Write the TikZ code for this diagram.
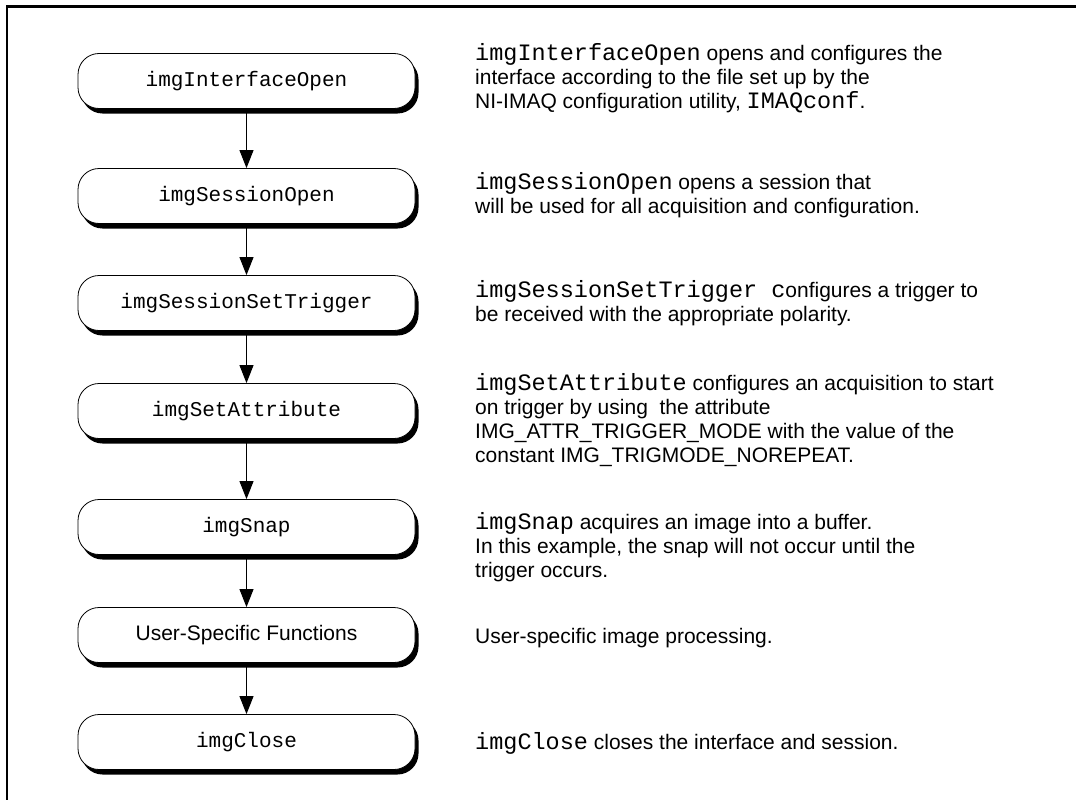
\documentclass[tikz,border=0pt]{standalone}
\usepackage{fontspec}
\setmainfont{Liberation Sans}
\setmonofont{Liberation Mono}
\usetikzlibrary{shadows,arrows.meta}
\newcommand\cmdtxt[1]{{\fontsize{23.5pt}{23.5pt}\selectfont\ttfamily #1}}
\tikzset{
  fbox/.style={draw=black, line width=0.8pt, fill=white, rounded corners=21pt,
    minimum width=337pt, minimum height=55pt, inner sep=0pt,
    font=\fontsize{21pt}{24pt}\selectfont\ttfamily,
    drop shadow={shadow xshift=3.5pt, shadow yshift=-5pt, fill=black, opacity=1}},
  sbox/.style={fbox, font=\fontsize{21pt}{24pt}\selectfont\rmfamily},
  desc/.style={anchor=base west, align=left, inner sep=0pt,
    font=\fontsize{21pt}{24pt}\selectfont},
  flow/.style={line width=1pt, -{Triangle[length=18pt,width=14pt]}}
}
\begin{document}
\begin{tikzpicture}[x=1pt,y=-1pt]
\useasboundingbox (0,0) rectangle (1076,800);
\draw[line width=2.2pt] (7,800) -- (7,6.5) -- (1076,6.5);

\node[fbox] (n1) at (246.5,81) {imgInterfaceOpen};
\node[fbox] (n2) at (246.5,196) {imgSessionOpen};
\node[fbox] (n3) at (246.5,303) {imgSessionSetTrigger};
\node[fbox] (n4) at (246.5,411) {imgSetAttribute};
\node[fbox] (n5) at (246.5,527) {imgSnap};
\node[sbox] (n6) at (246.5,635) {User-Specific Functions};
\node[fbox] (n7) at (246.5,742) {imgClose};

\draw[flow] (n1.south) -- (n2.north);
\draw[flow] (n2.south) -- (n3.north);
\draw[flow] (n3.south) -- (n4.north);
\draw[flow] (n4.south) -- (n5.north);
\draw[flow] (n5.south) -- (n6.north);
\draw[flow] (n6.south) -- (n7.north);

\node[desc] (d1) at (475,108) {\cmdtxt{imgInterfaceOpen} opens and configures the\\interface according to the file set up by the\\NI-IMAQ configuration utility, \cmdtxt{IMAQconf}.};
\node[desc] (d2) at (475,213) {\cmdtxt{imgSessionOpen} opens a session that\\will be used for all acquisition and configuration.};
\node[desc] (d3) at (475,321) {\cmdtxt{imgSessionSetTrigger c}onfigures a trigger to\\be received with the appropriate polarity.};
\node[desc] (d4) at (475,462) {\cmdtxt{imgSetAttribute} configures an acquisition to start\\on trigger by using\ \ the attribute\\IMG\_ATTR\_TRIGGER\_MODE with the value of the\\constant IMG\_TRIGMODE\_NOREPEAT.};
\node[desc] (d5) at (475,577) {\cmdtxt{imgSnap} acquires an image into a buffer.\\In this example, the snap will not occur until the\\trigger occurs.};
\node[desc] (d6) at (475,643) {User-specific image processing.};
\node[desc] (d7) at (475,749) {\cmdtxt{imgClose} closes the interface and session.};
\end{tikzpicture}
\end{document}
